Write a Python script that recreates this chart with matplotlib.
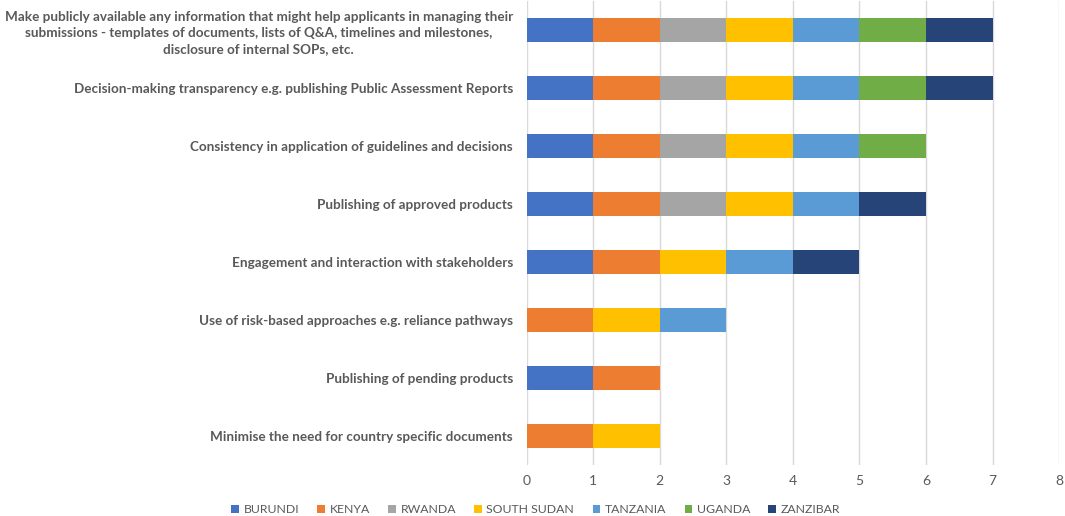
import numpy as np
import matplotlib.pyplot as plt

plt.rcParams['font.family'] = ['Lato', 'DejaVu Sans']

# categories, top to bottom
categories = [
    "Make publicly available any information that might help applicants in managing their\n"
    "submissions - templates of documents, lists of Q&A, timelines and milestones,\n"
    "disclosure of internal SOPs, etc.",
    "Decision-making transparency e.g. publishing Public Assessment Reports",
    "Consistency in application of guidelines and decisions",
    "Publishing of approved products",
    "Engagement and interaction with stakeholders",
    "Use of risk-based approaches e.g. reliance pathways",
    "Publishing of pending products",
    "Minimise the need for country specific documents",
]

countries = ["BURUNDI", "KENYA", "RWANDA", "SOUTH SUDAN", "TANZANIA", "UGANDA", "ZANZIBAR"]
colors = ["#4472C4", "#ED7D31", "#A5A5A5", "#FFC000", "#5B9BD5", "#70AD47", "#264478"]

# one value per category (same order as categories)
burundi = [1, 1, 1, 1, 1, 0, 1, 0]
kenya = [1, 1, 1, 1, 1, 1, 1, 1]
rwanda = [1, 1, 1, 1, 0, 0, 0, 0]
south_sudan = [1, 1, 1, 1, 1, 1, 0, 1]
tanzania = [1, 1, 1, 1, 1, 1, 0, 0]
uganda = [1, 1, 1, 0, 0, 0, 0, 0]
zanzibar = [1, 1, 0, 1, 1, 0, 0, 0]

series = [burundi, kenya, rwanda, south_sudan, tanzania, uganda, zanzibar]

fig = plt.figure(figsize=(10.65, 5.16), dpi=100)
ax = fig.add_axes([0.4946, 0.0988, 0.4998, 0.899])

y = np.arange(len(categories))
left = np.zeros(len(categories))
for name, vals, col in zip(countries, series, colors):
    vals = np.array(vals, dtype=float)
    ax.barh(y, vals, left=left, height=0.41, color=col, label=name)
    left += vals

ax.set_ylim(len(categories) - 0.5, -0.5)
ax.set_xlim(0, 8)
ax.set_xticks(range(9))
ax.set_yticks(y)
ax.set_yticklabels(categories, fontsize=9.7, fontweight='bold', color='#595959',
                   multialignment='center', linespacing=1.4)
ax.tick_params(axis='y', length=0, pad=10)
ax.tick_params(axis='x', length=0, pad=7, labelsize=10, labelcolor='#595959')
ax.grid(axis='x', color='#D9D9D9', linewidth=1)
ax.set_axisbelow(True)
for s in ax.spines.values():
    s.set_visible(False)

fig.legend(loc='center', bbox_to_anchor=(0.503, 0.012), ncol=7, frameon=False,
           fontsize=8.8, handlelength=0.6, handleheight=0.6, handletextpad=0.4,
           columnspacing=1.5, labelcolor='#595959')

fig.savefig("out.png", dpi=100)
